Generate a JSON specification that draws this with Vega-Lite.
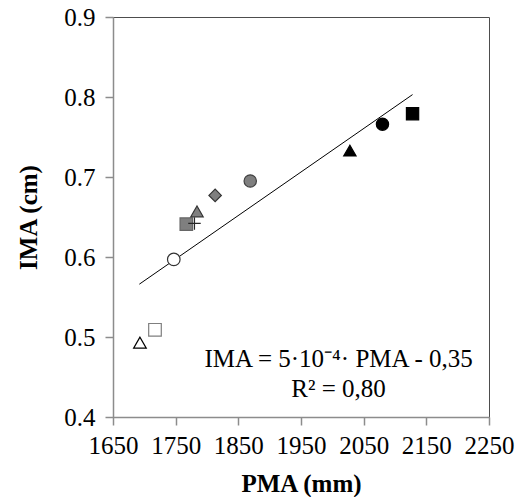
{
  "$schema": "https://vega.github.io/schema/vega-lite/v6.json",
  "width": 376,
  "height": 400,
  "autosize": {"type": "none"},
  "padding": {"left": 113, "top": 17, "right": 34, "bottom": 80},
  "background": "white",
  "config": {
    "view": {"stroke": "#4d4d4d", "strokeWidth": 1},
    "font": "Liberation Serif",
    "axis": {
      "grid": false,
      "labelFont": "Liberation Serif",
      "labelFontSize": 25,
      "labelColor": "black",
      "labelOverlap": false,
      "labelFlush": false,
      "labelBound": false,
      "tickColor": "#8c8c8c",
      "tickSize": 8,
      "tickWidth": 1.5,
      "domainColor": "#8c8c8c",
      "domainWidth": 1.5,
      "titleFont": "Liberation Serif",
      "titleFontSize": 25,
      "titleFontWeight": "bold",
      "titleColor": "black"
    }
  },
  "datasets": {
    "points": [
      {"marker": "open triangle", "PMA": 1693, "IMA": 0.493},
      {"marker": "open square", "PMA": 1717, "IMA": 0.509},
      {"marker": "open circle", "PMA": 1747, "IMA": 0.597},
      {"marker": "gray square", "PMA": 1767, "IMA": 0.641},
      {"marker": "plus", "PMA": 1780, "IMA": 0.642},
      {"marker": "gray triangle", "PMA": 1784, "IMA": 0.657},
      {"marker": "gray diamond", "PMA": 1813, "IMA": 0.677},
      {"marker": "gray circle", "PMA": 1869, "IMA": 0.695},
      {"marker": "black triangle", "PMA": 2028, "IMA": 0.733},
      {"marker": "black circle", "PMA": 2080, "IMA": 0.766},
      {"marker": "black square", "PMA": 2128, "IMA": 0.779}
    ],
    "fit": [
      {"PMA": 1692, "IMA": 0.566},
      {"PMA": 2128, "IMA": 0.803}
    ],
    "annotation": [
      {"label": "IMA = 5·10⁻⁴· PMA - 0,35", "PMA": 2010, "IMA": 0.472},
      {"label": "R² = 0,80", "PMA": 2010, "IMA": 0.435}
    ]
  },
  "layer": [
    {
      "data": {"name": "fit"},
      "mark": {"type": "line", "color": "black", "strokeWidth": 1},
      "encoding": {
        "x": {
          "field": "PMA", "type": "quantitative",
          "scale": {"domain": [1650, 2250], "nice": false, "zero": false},
          "axis": {
            "values": [1650, 1750, 1850, 1950, 2050, 2150, 2250],
            "format": "d",
            "title": "PMA (mm)",
            "labelPadding": 8,
            "titleY": 66,
            "titleBaseline": "middle"
          }
        },
        "y": {
          "field": "IMA", "type": "quantitative",
          "scale": {"domain": [0.4, 0.9], "nice": false, "zero": false},
          "axis": {
            "values": [0.4, 0.5, 0.6, 0.7, 0.8, 0.9],
            "format": ".1f",
            "title": "IMA (cm)",
            "labelPadding": 10,
            "titleX": -85,
            "titleY": 200,
            "titleBaseline": "middle",
            "titleAlign": "center"
          }
        }
      }
    },
    {
      "data": {"name": "points"},
      "mark": {"type": "point", "filled": true, "opacity": 1, "fillOpacity": 1, "strokeWidth": 1.2},
      "encoding": {
        "x": {"field": "PMA", "type": "quantitative"},
        "y": {"field": "IMA", "type": "quantitative"},
        "shape": {
          "field": "marker", "type": "nominal", "legend": null,
          "scale": {
            "domain": ["open triangle", "open square", "open circle", "gray square", "plus", "gray triangle", "gray diamond", "gray circle", "black triangle", "black circle", "black square"],
            "range": ["triangle-up", "square", "circle", "square", "M-1,0H1M0,-1V1", "triangle-up", "diamond", "circle", "triangle-up", "circle", "square"]
          }
        },
        "fill": {
          "field": "marker", "type": "nominal", "legend": null,
          "scale": {
            "domain": ["open triangle", "open square", "open circle", "gray square", "plus", "gray triangle", "gray diamond", "gray circle", "black triangle", "black circle", "black square"],
            "range": ["white", "white", "white", "#7f7f7f", "transparent", "#7f7f7f", "#7f7f7f", "#7f7f7f", "black", "black", "black"]
          }
        },
        "stroke": {
          "field": "marker", "type": "nominal", "legend": null,
          "scale": {
            "domain": ["open triangle", "open square", "open circle", "gray square", "plus", "gray triangle", "gray diamond", "gray circle", "black triangle", "black circle", "black square"],
            "range": ["black", "#7f7f7f", "#333333", "#666666", "#262626", "#333333", "#333333", "#404040", "black", "black", "black"]
          }
        },
        "size": {
          "field": "marker", "type": "nominal", "legend": null,
          "scale": {
            "domain": ["open triangle", "open square", "open circle", "gray square", "plus", "gray triangle", "gray diamond", "gray circle", "black triangle", "black circle", "black square"],
            "range": [160, 150, 140, 169, 144, 160, 125, 145, 160, 140, 160]
          }
        }
      }
    },
    {
      "data": {"name": "annotation"},
      "mark": {"type": "text", "font": "Liberation Serif", "fontSize": 25, "color": "black", "align": "center", "baseline": "middle"},
      "encoding": {
        "x": {"field": "PMA", "type": "quantitative"},
        "y": {"field": "IMA", "type": "quantitative"},
        "text": {"field": "label", "type": "nominal"}
      }
    }
  ]
}
